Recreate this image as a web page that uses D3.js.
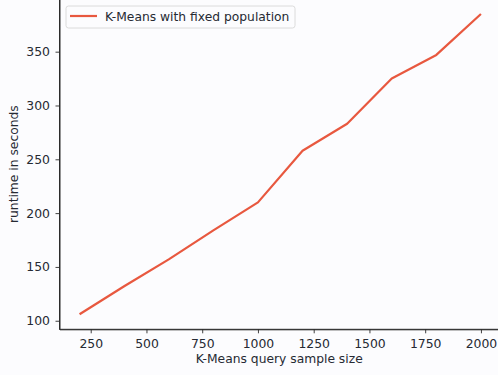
<!DOCTYPE html>
<html>
<head>
<meta charset="utf-8">
<script src="https://cdn.jsdelivr.net/npm/d3@7"></script>
<style>
  body { margin: 0; background: #fcfcfe; }
  text { font-family: "DejaVu Sans", sans-serif; fill: #262a33; }
</style>
</head>
<body>
<div id="chart"></div>
<script>
// data
const sampleSizes = [200, 400, 600, 800, 1000, 1200, 1400, 1600, 1800, 2000];
const runtimes = [106, 132, 157, 184, 210, 258, 283, 325, 347, 385];
const xTicks = [250, 500, 750, 1000, 1250, 1500, 1750, 2000];
const yTicks = [100, 150, 200, 250, 300, 350];
const seriesName = "K-Means with fixed population";

const width = 498;
const height = 375;
const lineColor = "#e8583f";
const tickFont = "12.4px";
const labelFont = "12.3px";

// plot box (right edge runs past the picture, like the cropped original)
const plotLeft = 59.5, plotRight = 501, plotTop = -1, plotBottom = 329.3;

const svg = d3.select("#chart")
    .append("svg")
    .attr("width", width)
    .attr("height", height);

svg.append("rect")
    .attr("width", width)
    .attr("height", height)
    .attr("fill", "#fcfcfe");

// matplotlib style 5% margins
const xPad = (d3.max(sampleSizes) - d3.min(sampleSizes)) * 0.05;
const yPad = (d3.max(runtimes) - d3.min(runtimes)) * 0.05;

const x = d3.scaleLinear()
    .domain([d3.min(sampleSizes) - xPad, d3.max(sampleSizes) + xPad])
    .range([plotLeft, plotRight]);

const y = d3.scaleLinear()
    .domain([d3.min(runtimes) - yPad, d3.max(runtimes) + yPad])
    .range([plotBottom, plotTop]);

// axes
const xAxis = svg.append("g")
    .attr("transform", `translate(0,${plotBottom})`)
    .call(d3.axisBottom(x).tickValues(xTicks).tickSizeInner(4).tickSizeOuter(0)
        .tickPadding(5.6).tickFormat(d3.format("d")));

const yAxis = svg.append("g")
    .attr("transform", `translate(${plotLeft},0)`)
    .call(d3.axisLeft(y).tickValues(yTicks).tickSizeInner(4).tickSizeOuter(0)
        .tickPadding(5.5).tickFormat(d3.format("d")));

[xAxis, yAxis].forEach(a => {
    a.selectAll("text").attr("font-size", tickFont).attr("fill", "#262a33")
        .attr("font-family", "DejaVu Sans, sans-serif");
    a.selectAll("line").attr("stroke", "#2b2b2b").attr("stroke-width", 0.9);
    a.select(".domain").attr("stroke", "#2b2b2b").attr("stroke-width", 1);
});

// top and right spines
svg.append("rect")
    .attr("x", plotLeft)
    .attr("y", plotTop)
    .attr("width", plotRight - plotLeft)
    .attr("height", plotBottom - plotTop)
    .attr("fill", "none")
    .attr("stroke", "#2b2b2b")
    .attr("stroke-width", 1);

// axis titles
svg.append("text")
    .attr("x", (plotLeft + plotRight) / 2 - 1)
    .attr("y", 363)
    .attr("text-anchor", "middle")
    .attr("font-size", labelFont)
    .text("K-Means query sample size");

svg.append("text")
    .attr("transform", `translate(17.5,${(plotTop + plotBottom) / 2}) rotate(-90)`)
    .attr("text-anchor", "middle")
    .attr("font-size", labelFont)
    .text("runtime in seconds");

// the line
const line = d3.line()
    .x((d, i) => x(sampleSizes[i]))
    .y(d => y(d));

svg.append("path")
    .datum(runtimes)
    .attr("fill", "none")
    .attr("stroke", lineColor)
    .attr("stroke-width", 2.2)
    .attr("stroke-linejoin", "round")
    .attr("d", line);

// legend
const legend = svg.append("g").attr("transform", "translate(66,6)");

legend.append("rect")
    .attr("width", 229)
    .attr("height", 22)
    .attr("rx", 2.5)
    .attr("fill", "#fcfcfe")
    .attr("stroke", "#d8d8d8")
    .attr("stroke-width", 0.9);

legend.append("line")
    .attr("x1", 4)
    .attr("x2", 31)
    .attr("y1", 10)
    .attr("y2", 10)
    .attr("stroke", lineColor)
    .attr("stroke-width", 2.2);

legend.append("text")
    .attr("x", 39)
    .attr("y", 14.8)
    .attr("font-size", labelFont)
    .text(seriesName);
</script>
</body>
</html>
